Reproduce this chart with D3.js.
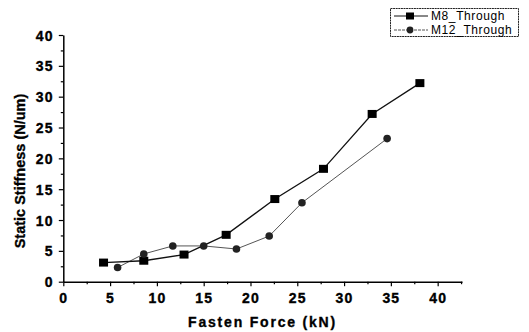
<!DOCTYPE html>
<html>
<head>
<meta charset="utf-8">
<script src="https://cdn.jsdelivr.net/npm/d3@7"></script>
<style>
  body { margin: 0; background: #fff; }
  svg { display: block; }
</style>
</head>
<body>
<svg id="chart" width="529" height="332"></svg>
<script>
// values
var m8Force = [4.3, 8.6, 12.9, 17.4, 22.6, 27.8, 33.0, 38.1];
var m8Stiff = [3.1, 3.4, 4.4, 7.6, 13.4, 18.3, 27.2, 32.2];
var m12Force = [5.8, 8.6, 11.7, 15.0, 18.5, 22.0, 25.5, 34.6];
var m12Stiff = [2.3, 4.5, 5.8, 5.8, 5.3, 7.4, 12.8, 23.2];
var xTicks = [0, 5, 10, 15, 20, 25, 30, 35, 40];
var yTicks = [0, 5, 10, 15, 20, 25, 30, 35, 40];
var seriesNames = ['M8_Through', 'M12_Through'];

var FONT = '"Liberation Sans", Arial, sans-serif';
var svg = d3.select('#chart').style('font-family', FONT);

var x = d3.scaleLinear().domain([0, 42.6]).range([63.3, 462]);
var y = d3.scaleLinear().domain([0, 40]).range([281.7, 35]);

// minor ticks first, then the main axes on top
var xMinor = d3.range(2.5, 42.6, 5);
var yMinor = d3.range(2.5, 40, 5);

svg.append('g')
  .attr('transform', 'translate(0,' + y(0) + ')')
  .call(d3.axisBottom(x).tickValues(xMinor).tickSize(2.5).tickFormat(''))
  .call(function(g) { g.select('.domain').remove(); });

svg.append('g')
  .attr('transform', 'translate(' + x(0) + ',0)')
  .call(d3.axisLeft(y).tickValues(yMinor).tickSize(2.5).tickFormat(''))
  .call(function(g) { g.select('.domain').remove(); });

// the scanned original has heavy type, a thin outline thickens the glyphs
function heavy(sel) {
  sel.style('font-weight', 'bold')
    .attr('stroke', '#000').attr('stroke-width', 0.35);
}

function styleLabels(sel, dy) {
  sel.selectAll('.tick text')
    .style('font-family', FONT)
    .style('font-size', '14px')
    .style('letter-spacing', '1.2px')
    .attr('dy', dy)
    .call(heavy);
}

var xAxis = svg.append('g')
  .attr('transform', 'translate(0,' + y(0) + ')')
  .call(d3.axisBottom(x).tickValues(xTicks).tickSize(4.5).tickSizeOuter(0).tickPadding(5));
xAxis.select('.domain').attr('stroke-width', 1.5);
styleLabels(xAxis, '0.85em');

var yAxis = svg.append('g')
  .attr('transform', 'translate(' + x(0) + ',0)')
  .call(d3.axisLeft(y).tickValues(yTicks).tickSize(4.5).tickSizeOuter(0).tickPadding(5));
yAxis.select('.domain').attr('stroke-width', 1.5);
styleLabels(yAxis, '0.36em');

svg.selectAll('.tick line').attr('stroke-width', 1.2);

// axis titles
svg.append('text')
  .attr('x', 262.5).attr('y', 326.7)
  .attr('text-anchor', 'middle')
  .style('font-size', '14px')
  .style('letter-spacing', '1.8px')
  .text('Fasten Force (kN)')
  .call(heavy);

svg.append('text')
  .attr('transform', 'translate(25,171) rotate(-90)')
  .attr('text-anchor', 'middle')
  .style('font-size', '14.5px')
  .text('Static Stiffness (N/um)')
  .call(heavy);

// series
var line = d3.line()
  .x(function(d) { return x(d[0]); })
  .y(function(d) { return y(d[1]); });

var m8 = d3.zip(m8Force, m8Stiff);
var m12 = d3.zip(m12Force, m12Stiff);

svg.append('path').datum(m12)
  .attr('fill', 'none').attr('stroke', '#555').attr('stroke-width', 1)
  .attr('d', line);

svg.append('path').datum(m8)
  .attr('fill', 'none').attr('stroke', '#111').attr('stroke-width', 1.3)
  .attr('d', line);

svg.selectAll('.m8pt').data(m8).enter().append('rect')
  .attr('class', 'm8pt')
  .attr('x', function(d) { return x(d[0]) - 4.5; })
  .attr('y', function(d) { return y(d[1]) - 4; })
  .attr('width', 9).attr('height', 8)
  .attr('fill', '#000');

svg.selectAll('.m12pt').data(m12).enter().append('circle')
  .attr('class', 'm12pt')
  .attr('cx', function(d) { return x(d[0]); })
  .attr('cy', function(d) { return y(d[1]); })
  .attr('r', 3.8)
  .attr('fill', '#222');

// legend
var legend = svg.append('g');
legend.append('rect')
  .attr('x', 390.5).attr('y', 8.5).attr('width', 128).attr('height', 28)
  .attr('fill', '#fff').attr('stroke', '#222').attr('stroke-width', 1)
  .attr('stroke-dasharray', '2,0.6');

seriesNames.forEach(function(name, i) {
  var ly = 16 + i * 14;
  legend.append('line')
    .attr('x1', 394).attr('x2', 428).attr('y1', ly).attr('y2', ly)
    .attr('stroke', i === 0 ? '#111' : '#555').attr('stroke-width', 1)
    .attr('stroke-dasharray', i === 0 ? null : '3,1');
  if (i === 0) {
    legend.append('rect').attr('x', 406).attr('y', ly - 3.5)
      .attr('width', 8).attr('height', 7).attr('fill', '#000');
  } else {
    legend.append('circle').attr('cx', 410).attr('cy', ly).attr('r', 3.4).attr('fill', '#222');
  }
  legend.append('text')
    .attr('x', 431).attr('y', ly + 4.3)
    .style('font-size', '12px').style('letter-spacing', '0.6px')
    .text(name);
});
</script>
</body>
</html>
